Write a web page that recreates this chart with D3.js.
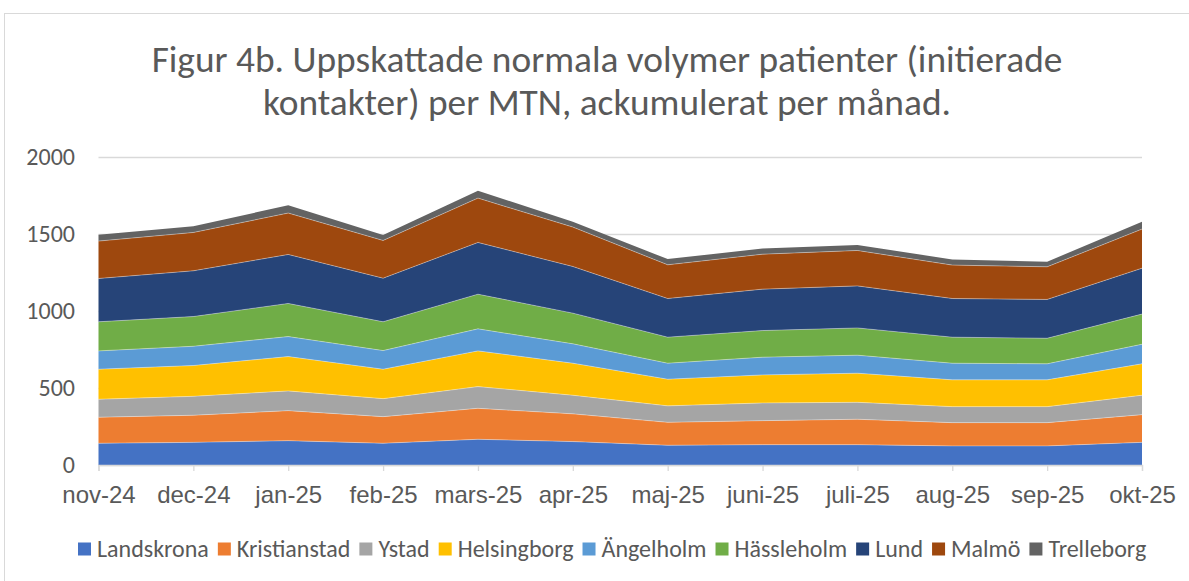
<!DOCTYPE html>
<html>
<head>
<meta charset="utf-8">
<script src="https://cdn.jsdelivr.net/npm/d3@7"></script>
<style>
  html, body { margin: 0; padding: 0; background: #fff; }
  svg { display: block; font-family: Calibri, Carlito, "Liberation Sans Narrow", "Open Sans", sans-serif; }
</style>
</head>
<body>
<svg id="chart" width="1189" height="581"></svg>
<script>
// Données
const months = ["nov-24", "dec-24", "jan-25", "feb-25", "mars-25", "apr-25", "maj-25", "juni-25", "juli-25", "aug-25", "sep-25", "okt-25"];
const regions = ["Landskrona", "Kristianstad", "Ystad", "Helsingborg", "Ängelholm", "Hässleholm", "Lund", "Malmö", "Trelleborg"];
const colors = ["#4472C4", "#ED7D31", "#A5A5A5", "#FFC000", "#5B9BD5", "#70AD47", "#264478", "#9E480E", "#636363"];

const landskrona   = [141, 147, 158, 141, 167, 152, 128, 132, 132, 124, 124, 147];
const kristianstad = [169, 176, 195, 173, 201, 180, 149, 156, 165, 151, 151, 180];
const ystad        = [117, 123, 128, 117, 141, 121, 107, 115, 110, 104, 104, 126];
const helsingborg  = [195, 200, 223, 191, 232, 208, 173, 182, 189, 174, 174, 204];
const angelholm    = [119, 125, 130, 121, 143, 126, 104, 115, 117, 108, 104, 127];
const hassleholm   = [189, 193, 215, 187, 225, 199, 169, 173, 177, 169, 166, 196];
const lund         = [281, 297, 318, 283, 336, 303, 251, 269, 273, 251, 252, 298];
const malmo        = [243, 249, 269, 245, 288, 256, 219, 227, 230, 217, 212, 254];
const trelleborg   = [41, 41, 50, 36, 48, 35, 37, 37, 35, 37, 33, 48];

const yTicks = [0, 500, 1000, 1500, 2000];
const titleLines = ["Figur 4b. Uppskattade normala volymer patienter (initierade", "kontakter) per MTN, ackumulerat per månad."];

const series = [landskrona, kristianstad, ystad, helsingborg, angelholm, hassleholm, lund, malmo, trelleborg];

// table pour d3.stack
const table = months.map((m, i) => {
  const row = { month: m };
  regions.forEach((r, k) => { row[r] = series[k][i]; });
  return row;
});

//---------------------------------------------------------------------------------------
const svg = d3.select("#chart");
const textCol = "#595959";
const labelFont = 24;

// cadre du graphique
svg.append("rect")
  .attr("x", 4.5).attr("y", 13.5)
  .attr("width", 1200).attr("height", 600)
  .attr("fill", "#fff")
  .attr("stroke", "#d9d9d9");

// titre
svg.selectAll(".title")
  .data(titleLines)
  .join("text")
  .attr("class", "title")
  .attr("x", 607)
  .attr("y", (d, i) => 72 + i * 43)
  .attr("text-anchor", "middle")
  .attr("fill", textCol)
  .attr("font-size", 31)
  .text(d => d);

// ajuste la taille pour coller à la largeur de la ligne 1
const t0 = svg.select(".title").node().getComputedTextLength();
svg.selectAll(".title").attr("font-size", 31 * 911 / t0);

//---------------------------------------------------------------------------------------
// échelles
const x = d3.scalePoint().domain(months).range([98.5, 1142]);
const y = d3.scaleLinear().domain([0, 2000]).range([465, 157]);

// grille
svg.append("g")
  .selectAll("line")
  .data(yTicks)
  .join("line")
  .attr("x1", 98.5).attr("x2", 1142)
  .attr("y1", d => Math.round(y(d)) + 0.5)
  .attr("y2", d => Math.round(y(d)) + 0.5)
  .attr("stroke", "#d9d9d9")
  .attr("stroke-width", 1.3);

// aires empilées
const stack = d3.stack().keys(regions)(table);
const area = d3.area()
  .x(d => x(d.data.month))
  .y0(d => y(d[0]))
  .y1(d => y(d[1]));

svg.append("g")
  .selectAll("path")
  .data(stack)
  .join("path")
  .attr("fill", (d, i) => colors[i])
  .attr("d", area);

// fines lignes entre les couches
const line = d3.line().x(d => x(d.data.month)).y(d => y(d[1]));
svg.append("g")
  .selectAll("path")
  .data(stack.slice(0, -1))
  .join("path")
  .attr("fill", "none")
  .attr("stroke", "#fff")
  .attr("stroke-opacity", 0.45)
  .attr("stroke-width", 0.8)
  .attr("d", line);

// axe X
const xAxis = svg.append("g")
  .attr("transform", `translate(0, ${y(0)})`)
  .call(d3.axisBottom(x).tickSize(6).tickPadding(15));
xAxis.select(".domain").attr("stroke", "#d9d9d9").attr("stroke-width", 1.3);
xAxis.selectAll(".tick line").attr("stroke", "#d9d9d9").attr("stroke-width", 1.3);
xAxis.selectAll("text").attr("fill", textCol).attr("font-size", labelFont).attr("font-family", null);

// axe Y
svg.append("g")
  .selectAll("text")
  .data(yTicks)
  .join("text")
  .attr("x", 75)
  .attr("y", d => y(d))
  .attr("dy", "0.35em")
  .attr("text-anchor", "end")
  .attr("fill", textCol)
  .attr("font-size", labelFont)
  .text(d => d);

//---------------------------------------------------------------------------------------
// légende
const legend = svg.append("g").attr("transform", "translate(78, 549)");
let lx = 0;
regions.forEach((r, i) => {
  const g = legend.append("g").attr("transform", `translate(${lx}, 0)`);
  g.append("rect").attr("x", 0).attr("y", -6.5).attr("width", 13).attr("height", 13).attr("fill", colors[i]);
  const t = g.append("text").attr("x", 19).attr("y", 0).attr("dy", "0.35em")
    .attr("fill", textCol).attr("font-size", labelFont).text(r);
  lx += 19 + t.node().getComputedTextLength() + 9;
});
</script>
</body>
</html>
